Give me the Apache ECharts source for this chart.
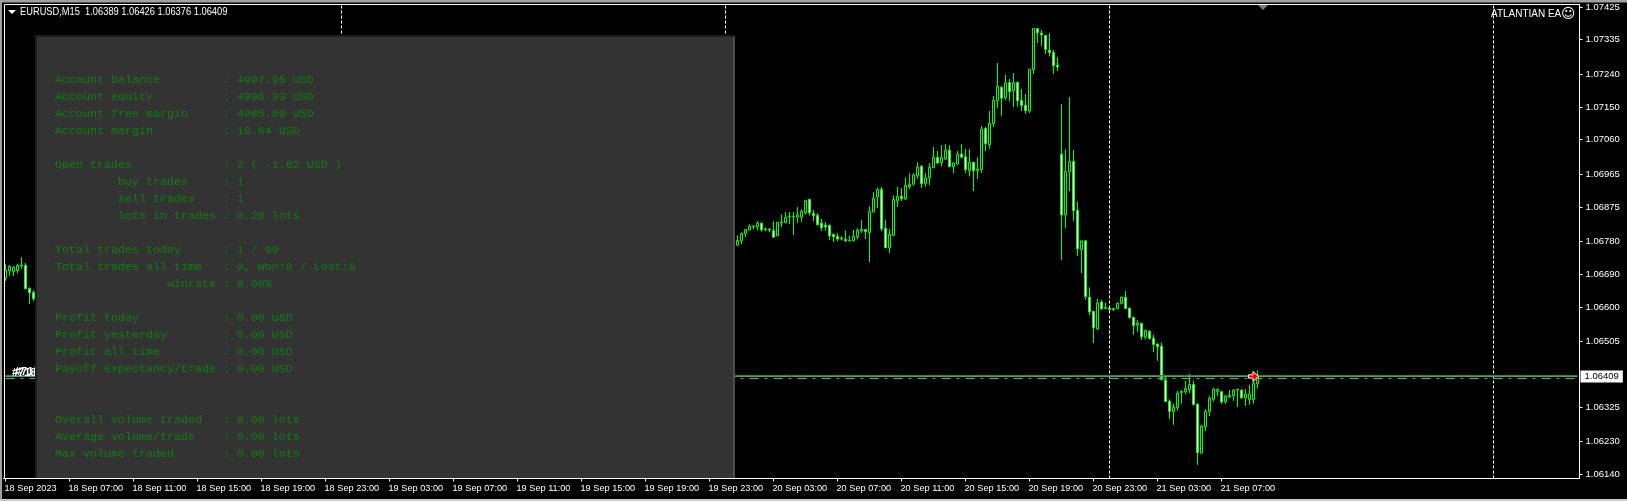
<!DOCTYPE html>
<html>
<head>
<meta charset="utf-8">
<title>EURUSD,M15</title>
<script src="https://cdn.jsdelivr.net/npm/echarts@6/dist/echarts.min.js"></script>
<style>
html,body{margin:0;padding:0;background:#000;overflow:hidden;}
#main{width:1627px;height:501px;}
</style>
</head>
<body>
<div id="main"></div>
<script>
// price rows are open, high, low, close
// bars 0-7, the ones left of the info panel
var leftBars = [
  [1.06680,1.06718,1.06672,1.06701],[1.06699,1.06715,1.06686,1.06712],[1.06697,1.06712,1.06685,1.06709],[1.06700,1.06718,1.06692,1.06714],
  [1.06713,1.06737,1.06705,1.06715],[1.06714,1.06721,1.06649,1.06650],[1.06651,1.06654,1.06608,1.06639],[1.06640,1.06646,1.06617,1.06623]
];
// bars 183-313, right of the panel. whatever is under the panel can't be read
var rightStart = 183;
var rightBars = [
  [1.06770,1.06797,1.06768,1.06783],[1.06782,1.06805,1.06773,1.06802],[1.06801,1.06813,1.06792,1.06813],[1.06812,1.06827,1.06811,1.06822],
  [1.06821,1.06824,1.06813,1.06823],[1.06821,1.06836,1.06811,1.06830],[1.06830,1.06833,1.06807,1.06812],[1.06812,1.06819,1.06809,1.06814],
  [1.06814,1.06817,1.06806,1.06812],[1.06810,1.06836,1.06790,1.06792],[1.06796,1.06833,1.06795,1.06833],[1.06832,1.06855,1.06820,1.06834],
  [1.06832,1.06861,1.06830,1.06846],[1.06848,1.06861,1.06828,1.06850],[1.06849,1.06861,1.06798,1.06848],[1.06847,1.06875,1.06831,1.06853],
  [1.06847,1.06869,1.06834,1.06863],[1.06859,1.06894,1.06854,1.06893],[1.06896,1.06897,1.06852,1.06859],[1.06857,1.06867,1.06836,1.06851],
  [1.06852,1.06858,1.06825,1.06826],[1.06830,1.06842,1.06809,1.06818],[1.06825,1.06834,1.06809,1.06820],[1.06824,1.06827,1.06784,1.06796],
  [1.06800,1.06801,1.06779,1.06793],[1.06794,1.06803,1.06781,1.06787],[1.06788,1.06795,1.06783,1.06790],[1.06786,1.06811,1.06779,1.06782],
  [1.06782,1.06796,1.06781,1.06784],[1.06782,1.06812,1.06781,1.06794],[1.06793,1.06817,1.06787,1.06811],[1.06809,1.06839,1.06804,1.06813],
  [1.06813,1.06815,1.06787,1.06807],[1.06804,1.06877,1.06724,1.06863],[1.06862,1.06916,1.06859,1.06899],[1.06902,1.06928,1.06872,1.06923],
  [1.06923,1.06930,1.06809,1.06815],[1.06816,1.06839,1.06763,1.06763],[1.06763,1.06814,1.06748,1.06800],[1.06797,1.06907,1.06795,1.06896],
  [1.06892,1.06930,1.06875,1.06904],[1.06905,1.06927,1.06891,1.06898],[1.06897,1.06955,1.06894,1.06934],[1.06931,1.06968,1.06924,1.06937],
  [1.06938,1.06968,1.06934,1.06963],[1.06961,1.06998,1.06953,1.06984],[1.06987,1.06990,1.06927,1.06939],[1.06939,1.06968,1.06931,1.06955],
  [1.06955,1.06996,1.06935,1.06984],[1.06983,1.07040,1.06982,1.07011],[1.07011,1.07029,1.06993,1.06996],[1.06997,1.07045,1.06987,1.07011],
  [1.07007,1.07048,1.07004,1.07031],[1.07031,1.07045,1.06984,1.06986],[1.06986,1.06998,1.06968,1.06996],[1.06993,1.07029,1.06990,1.07020],
  [1.07021,1.07048,1.07009,1.07012],[1.07013,1.07035,1.06969,1.06978],[1.06975,1.07035,1.06959,1.06998],[1.06998,1.06998,1.06919,1.06975],
  [1.06975,1.07012,1.06952,1.06979],[1.06978,1.07098,1.06969,1.07089],[1.07091,1.07095,1.07029,1.07049],[1.07046,1.07139,1.07035,1.07105],
  [1.07104,1.07180,1.07095,1.07168],[1.07167,1.07271,1.07147,1.07207],[1.07204,1.07207,1.07125,1.07174],[1.07176,1.07238,1.07169,1.07217],
  [1.07217,1.07227,1.07166,1.07192],[1.07195,1.07243,1.07150,1.07217],[1.07218,1.07218,1.07151,1.07167],[1.07168,1.07199,1.07139,1.07154],
  [1.07155,1.07186,1.07131,1.07140],[1.07139,1.07254,1.07133,1.07254],[1.07253,1.07366,1.07241,1.07366],[1.07366,1.07366,1.07326,1.07354],
  [1.07353,1.07362,1.07318,1.07348],[1.07347,1.07347,1.07296,1.07308],[1.07306,1.07353,1.07289,1.07300],[1.07300,1.07307,1.07241,1.07264],
  [1.07265,1.07287,1.07249,1.07260],[1.07020,1.07158,1.06729,1.06853],[1.06853,1.07034,1.06817,1.06973],[1.06972,1.07177,1.06919,1.07000],
  [1.07000,1.07032,1.06836,1.06865],[1.06866,1.06889,1.06740,1.06760],[1.06758,1.06784,1.06692,1.06782],[1.06782,1.06785,1.06620,1.06629],
  [1.06627,1.06654,1.06578,1.06586],[1.06588,1.06588,1.06501,1.06543],[1.06540,1.06622,1.06537,1.06611],[1.06614,1.06620,1.06592,1.06595],
  [1.06596,1.06612,1.06594,1.06599],[1.06597,1.06597,1.06590,1.06593],[1.06593,1.06597,1.06589,1.06596],[1.06596,1.06613,1.06594,1.06610],
  [1.06609,1.06629,1.06608,1.06627],[1.06627,1.06644,1.06594,1.06596],[1.06597,1.06597,1.06568,1.06571],[1.06572,1.06572,1.06524,1.06549],
  [1.06550,1.06564,1.06532,1.06555],[1.06555,1.06555,1.06510,1.06518],[1.06517,1.06537,1.06511,1.06536],[1.06533,1.06536,1.06511,1.06513],
  [1.06514,1.06524,1.06476,1.06497],[1.06498,1.06500,1.06452,1.06491],[1.06492,1.06503,1.06399,1.06400],[1.06399,1.06413,1.06339,1.06340],
  [1.06341,1.06346,1.06292,1.06313],[1.06313,1.06335,1.06276,1.06324],[1.06323,1.06369,1.06315,1.06363],[1.06365,1.06371,1.06334,1.06368],
  [1.06367,1.06397,1.06361,1.06376],[1.06372,1.06416,1.06363,1.06387],[1.06387,1.06397,1.06329,1.06332],[1.06333,1.06334,1.06166,1.06200],
  [1.06198,1.06276,1.06196,1.06273],[1.06271,1.06319,1.06259,1.06313],[1.06313,1.06355,1.06300,1.06349],[1.06346,1.06378,1.06340,1.06374],
  [1.06368,1.06376,1.06355,1.06374],[1.06367,1.06369,1.06334,1.06339],[1.06339,1.06358,1.06334,1.06355],[1.06353,1.06372,1.06349,1.06357],
  [1.06356,1.06374,1.06342,1.06371],[1.06372,1.06375,1.06325,1.06374],[1.06371,1.06374,1.06348,1.06350],[1.06350,1.06374,1.06328,1.06361],
  [1.06345,1.06386,1.06331,1.06361],[1.06345,1.06409,1.06334,1.06390],[1.06389,1.06426,1.06376,1.06409]
];
var barCount = 394;
var tickEvery = 16;
var timeLabels = ["18 Sep 2023","18 Sep 07:00","18 Sep 11:00","18 Sep 15:00","18 Sep 19:00","18 Sep 23:00","19 Sep 03:00","19 Sep 07:00","19 Sep 11:00","19 Sep 15:00",
  "19 Sep 19:00","19 Sep 23:00","20 Sep 03:00","20 Sep 07:00","20 Sep 11:00","20 Sep 15:00","20 Sep 19:00","20 Sep 23:00","21 Sep 03:00","21 Sep 07:00"];
var priceTicks = [1.07425,1.07335,1.07240,1.07150,1.07060,1.06965,1.06875,1.06780,1.06690,1.06600,1.06505,1.06325,1.06230,1.06140];
var lastPrice = 1.06409;
var buyLine = 1.06412;
var sellLine = 1.06403;
var daySeparators = [84,180,276,372];
var arrowBar = 312;
var titleText = "EURUSD,M15  1.06389 1.06426 1.06376 1.06409";
var panelLines = [
  "Account balance         : 4997.95 USD",
  "Account equity          : 4996.33 USD",
  "Account free margin     : 4985.69 USD",
  "Account margin          : 10.64 USD",
  "",
  "Open trades             : 2 ( -1.62 USD )",
  "         buy trades     : 1",
  "         sell trades    : 1",
  "         lots in trades : 0.20 lots",
  "",
  "Total trades today      : 1 / 99",
  "Total trades all time   : 0, Won:0 / Lost:0",
  "                winrate : 0.00%",
  "",
  "Profit today            : 0.00 USD",
  "Profit yesterday        : 0.00 USD",
  "Profit all time         : 0.00 USD",
  "Payoff expectancy/trade : 0.00 USD",
  "",
  "",
  "Overall volume traded   : 0.00 lots",
  "Average volume/trade    : 0.00 lots",
  "Max volume traded       : 0.00 lots"
];

var uiFont = '"Liberation Sans", Arial, sans-serif';

// x axis + candle rows, echarts wants open, close, low, high
var categories = [], candles = [], i;
for(i=0;i<barCount;i++){
  categories.push(i%tickEvery==0 && timeLabels[i/tickEvery] ? timeLabels[i/tickEvery] : "");
  candles.push(["-","-","-","-"]);
}
function putBars(start,rows){
  rows.forEach(function(r,k){
    candles[start+k] = [r[0],r[3],r[2],r[1]];
  });
}
putBars(0,leftBars);
putBars(rightStart,rightBars);

function isTimeTick(idx){
  return categories[idx]!=="";
}

// info panel and the rest of the chart furniture
var gfx = [
  {type:"rect",z:1,silent:true,shape:{x:0,y:0,width:1627,height:2},style:{fill:"#a0a0a0"}},
  {type:"rect",z:1,silent:true,shape:{x:0,y:2,width:1627,height:1},style:{fill:"#505050"}},
  {type:"rect",z:1,silent:true,shape:{x:0,y:0,width:2,height:501},style:{fill:"#a0a0a0"}},
  {type:"rect",z:1,silent:true,shape:{x:0,y:499,width:1627,height:2},style:{fill:"#c8c8c8"}},
  {type:"rect",z:60,silent:true,shape:{x:4.5,y:4.5,width:1575,height:474},style:{fill:"none",stroke:"#fff",lineWidth:1}},
  {type:"text",z:50,silent:true,x:12,y:367,style:{text:"#718",fill:"#fff",font:"bold 11px "+uiFont}},
  {type:"text",z:50,silent:true,x:15,y:366,style:{text:"#718",fill:"#fff",font:"bold 11px "+uiFont}},
  {type:"rect",z:100,silent:true,shape:{x:35,y:35,width:700,height:443},style:{fill:"#1e1e1e"}},
  {type:"rect",z:101,silent:true,shape:{x:733,y:37,width:2,height:441},style:{fill:"#4c4c4c"}},
  {type:"rect",z:101,silent:true,shape:{x:37,y:37,width:696,height:441},style:{fill:"#333333"}},
  {type:"polygon",z:110,silent:true,shape:{points:[[1258,5],[1268,5],[1263,10]]},style:{fill:"#708090"}},
  {type:"polygon",z:110,silent:true,shape:{points:[[8,10],[16,10],[12,14]]},style:{fill:"#fff"}},
  {type:"text",z:110,silent:true,x:20,y:12.5,scaleX:0.93,style:{text:titleText,fill:"#fff",font:"10px "+uiFont,verticalAlign:"middle"}},
  {type:"text",z:110,silent:true,x:1491,y:14,scaleX:0.95,style:{text:"ATLANTIAN EA",fill:"#fff",font:"10.5px "+uiFont,verticalAlign:"middle"}},
  {type:"text",z:110,silent:true,x:1561,y:14,style:{text:"\u263A",fill:"#fff",font:'14px "DejaVu Sans"',verticalAlign:"middle"}}
];
panelLines.forEach(function(line,k){
  if(line==="") return;
  gfx.push({type:"text",z:102,silent:true,x:55,y:80+17*k,
    style:{text:line,fill:"#0f7f0f",font:'11.67px "Liberation Mono", monospace',verticalAlign:"middle"}});
});

// horizontal levels, from the first bar slot to the last
function levelLine(price,style,label){
  return [{coord:[0,price],lineStyle:style,label:label||{show:false}},{coord:[barCount-1,price]}];
}
var priceMarks = [
  levelLine(buyLine,{color:"#149614",type:"solid",width:1}),
  levelLine(sellLine,{color:"#19d819",type:[9,6,3,6],width:1}),
  levelLine(lastPrice,{color:"#778899",type:"solid",width:1},
    {show:true,position:"end",distance:3,formatter:lastPrice.toFixed(5),color:"#000",backgroundColor:"#fff",
      fontFamily:uiFont,fontSize:9.5,padding:[1,4,1,4]})
];
var dayMarks = [];
daySeparators.forEach(function(d){
  dayMarks.push({xAxis:d,lineStyle:{color:"#fff",type:[3,2],width:1},label:{show:false}});
});

var option = {
  animation:false,
  backgroundColor:"#000",
  grid:{left:3.5,top:4.5,width:1576,height:474,containLabel:false},
  xAxis:{
    type:"category",
    data:categories,
    boundaryGap:true,
    axisLine:{show:true,lineStyle:{color:"#fff"}},
    axisTick:{show:true,alignWithLabel:true,length:3,interval:isTimeTick,lineStyle:{color:"#fff"}},
    axisLabel:{show:true,interval:isTimeTick,align:"left",margin:5,padding:[0,0,0,-1],color:"#fff",fontFamily:uiFont,fontSize:9.2},
    splitLine:{show:false}
  },
  yAxis:{
    type:"value",
    position:"right",
    scale:true,
    min:1.0612842,
    max:1.0743187,
    axisLine:{show:true,lineStyle:{color:"#fff"}},
    axisTick:{show:true,length:3,customValues:priceTicks,lineStyle:{color:"#fff"}},
    axisLabel:{show:true,margin:6,padding:[5,0,0,0],customValues:priceTicks,color:"#fff",fontFamily:uiFont,fontSize:9.5,
      formatter:function(v){return v.toFixed(5);}},
    splitLine:{show:false}
  },
  graphic:gfx,
  series:[{
    type:"candlestick",
    data:candles,
    barWidth:2,
    itemStyle:{color:"#000",color0:"#fff",borderColor:"#00ff00",borderColor0:"#00ff00",borderWidth:1},
    markLine:{silent:true,symbol:"none",animation:false,data:dayMarks}
  },{
    // only here to carry the price lines and the trade arrow
    type:"line",
    data:[lastPrice],
    showSymbol:false,
    lineStyle:{opacity:0},
    markLine:{silent:true,symbol:"none",animation:false,data:priceMarks},
    markPoint:{silent:true,animation:false,
      data:[{coord:[arrowBar,lastPrice],symbol:"path://M0,3H4V0L9,4.5L4,9V6H0Z",symbolSize:10,itemStyle:{color:"#ff0000",borderColor:"#fff",borderWidth:1},label:{show:false}}]}
  }]
};

var myChart = echarts.init(document.getElementById("main"),null,{renderer:"canvas"});
myChart.setOption(option);
</script>
</body>
</html>
